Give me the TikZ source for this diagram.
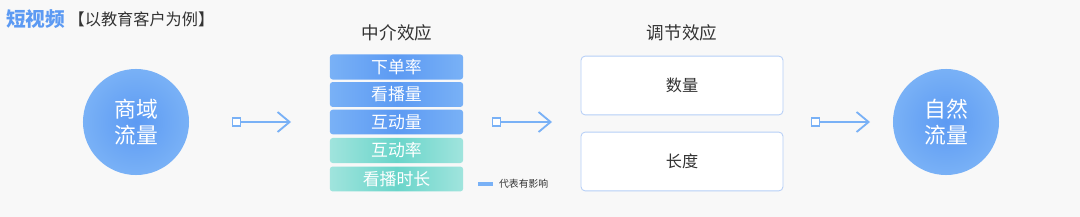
\documentclass[tikz,border=0pt]{standalone}
\usepackage{fontspec}
\setmainfont{Noto Sans CJK SC}
\usetikzlibrary{arrows.meta,positioning}

\definecolor{bgcol}{HTML}{F8F8F8}
\definecolor{flowblue}{HTML}{5C9AF3}
\definecolor{flowlite}{HTML}{79B1F6}
\definecolor{tealmid}{HTML}{6AD5CA}
\definecolor{teallite}{HTML}{A0E4DD}
\definecolor{boxline}{HTML}{B5CEF7}
\definecolor{txtdark}{HTML}{333333}

\begin{document}
\begin{tikzpicture}[x=0.025cm, y=-0.025cm,
  flow/.style={circle, minimum size=2.65cm, inner sep=0pt, shading=radial,
    inner color=flowblue, outer color=flowlite, text=white, align=center,
    font=\fontsize{15.5}{19}\selectfont},
  bluebar/.style={rounded corners=2pt, minimum width=3.33cm, minimum height=0.56cm,
    left color=flowlite, right color=flowlite, middle color=flowblue,
    text=white, font=\fontsize{12}{14}\selectfont},
  tealbar/.style={bluebar, left color=teallite, right color=teallite, middle color=tealmid},
  modbox/.style={draw=boxline, line width=0.6pt, fill=white, rounded corners=3pt,
    minimum width=5.05cm, minimum height=1.47cm, text=txtdark,
    font=\fontsize{11.5}{13}\selectfont},
  head/.style={text=txtdark, font=\fontsize{12.5}{14}\selectfont},
  sq/.style={draw=flowlite, fill=white, line width=0.8pt, minimum size=0.2cm, inner sep=0pt},
  conn/.style={flowlite, line width=1.5pt, -{Straight Barb[length=0.3cm, width=0.5cm, line width=1.3pt]}}]

  % page and background
  \fill[bgcol] (0,0) rectangle (1080,217);
  \useasboundingbox (0,0) rectangle (1080,217);

  % title
  \node[anchor=west, inner sep=0pt, text=flowblue, font=\fontsize{14}{16}\selectfont\bfseries] (title) at (6,19) {短视频};
  \node[right=2pt of title, inner sep=0pt, text=txtdark, font=\fontsize{11.5}{13}\selectfont] (sub) {【以教育客户为例】};

  % source and target
  \node[flow] (src) at (136,122) {商域\\流量};
  \node[flow] (dst) at (946,122) {自然\\流量};

  % mediating effects
  \node[head] (midhead) at (397,33) {中介效应};
  \foreach \y/\name/\label in {67/m1/下单率, 94.5/m2/看播量, 122/m3/互动量} {
    \node[bluebar] (\name) at (396.5,\y) {\label};
  }
  \foreach \y/\name/\label in {150.5/m4/互动率, 179/m5/看播时长} {
    \node[tealbar] (\name) at (396.5,\y) {\label};
  }

  % legend
  \node[fill=flowlite, minimum width=0.37cm, minimum height=0.1cm, inner sep=0pt] (key) at (485.5,184) {};
  \node[right=4pt of key, inner sep=0pt, text=txtdark, font=\fontsize{7}{8}\selectfont] (keytxt) {代表有影响};

  % moderating effects
  \node[head] (modhead) at (682,33) {调节效应};
  \node[modbox] (num) at (682,85.5) {数量};
  \node[modbox] (len) at (682,161.5) {长度};

  % connectors
  \node[sq] (s1) at (236.5,122) {};
  \coordinate (t1) at (291,122);
  \draw[conn] (s1) -- (t1);
  \node[sq] (s2) at (496.5,122) {};
  \coordinate (t2) at (552,122);
  \draw[conn] (s2) -- (t2);
  \node[sq] (s3) at (815.5,122) {};
  \coordinate (t3) at (870,122);
  \draw[conn] (s3) -- (t3);
\end{tikzpicture}
\end{document}
